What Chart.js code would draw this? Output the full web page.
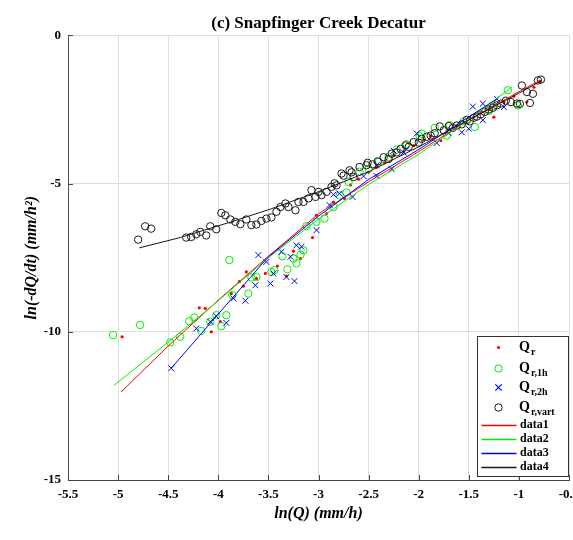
<!DOCTYPE html>
<html>
<head>
<meta charset="utf-8">
<script src="https://cdn.jsdelivr.net/npm/chart.js@4.4.0/dist/chart.umd.min.js"></script>
<style>
  html, body { margin: 0; padding: 0; background: #fff; overflow: hidden; }
  #wrap { width: 573px; height: 540px; overflow: hidden; }
  canvas { display: block; }
</style>
</head>
<body>
<div id="wrap"><canvas id="grafico" width="600" height="540"></canvas></div>
<script>
// Q_r (puntos rojos)
const qrX = [-4.96, -4.19, -4.13, -4.07, -3.98, -3.87, -3.79, -3.75, -3.72, -3.62, -3.53, -3.41, -3.32, -3.25, -3.18, -3.06, -3.02, -2.92, -2.85, -2.74, -2.68, -2.60, -2.50, -2.42, -2.34, -2.25, -2.15, -2.05, -1.95, -1.88, -1.78, -1.70, -1.62, -1.55, -1.45, -1.38, -1.30, -1.25, -1.15, -1.05, -0.92, -0.85, -0.79];
const qrY = [-10.17, -9.19, -9.21, -10.0, -9.66, -8.71, -8.31, -8.46, -7.98, -8.20, -8.03, -7.78, -8.12, -7.28, -7.53, -6.82, -6.07, -6.01, -5.62, -5.50, -5.05, -4.85, -4.62, -4.45, -4.30, -4.05, -3.92, -3.72, -3.52, -3.40, -3.55, -3.15, -3.05, -2.95, -2.75, -2.62, -2.50, -2.76, -2.25, -2.05, -2.25, -1.75, -1.55];

// Q_r,1h (circulos verdes)
const q1hX = [-5.05, -4.78, -4.48, -4.38, -4.29, -4.24, -4.17, -4.08, -4.02, -3.97, -3.92, -3.89, -3.86, -3.70, -3.67, -3.62, -3.47, -3.44, -3.36, -3.31, -3.25, -3.22, -3.18, -3.15, -3.12, -3.02, -2.94, -2.85, -2.79, -2.72, -2.70, -2.59, -2.50, -2.40, -2.30, -2.22, -2.12, -1.99, -1.97, -1.84, -1.72, -1.69, -1.55, -1.44, -1.30, -1.25, -1.11, -1.01];
const q1hY = [-10.11, -9.77, -10.36, -10.17, -9.64, -9.52, -9.97, -9.66, -9.44, -9.81, -9.44, -7.58, -8.76, -8.71, -8.17, -8.15, -7.98, -7.92, -7.45, -7.89, -7.53, -7.69, -7.40, -7.25, -6.43, -6.29, -6.18, -5.79, -5.40, -5.30, -4.95, -4.60, -4.50, -4.27, -4.10, -3.85, -3.67, -3.40, -3.32, -3.12, -3.38, -3.03, -2.90, -3.09, -2.55, -2.40, -1.85, -2.36];

// Q_r,2h (cruces azules)
const q2hX = [-4.47, -4.22, -4.08, -4.02, -3.92, -3.85, -3.73, -3.63, -3.60, -3.52, -3.48, -3.45, -3.37, -3.32, -3.28, -3.24, -3.22, -3.17, -3.02, -2.89, -2.85, -2.79, -2.66, -2.55, -2.42, -2.42, -2.27, -2.25, -2.15, -2.02, -1.82, -1.70, -1.57, -1.50, -1.46, -1.36, -1.36, -1.22, -1.15];
const q2hY = [-11.23, -9.89, -9.66, -9.47, -9.70, -8.87, -8.95, -8.43, -7.41, -7.64, -8.37, -8.03, -7.30, -8.15, -7.47, -8.29, -7.08, -7.13, -6.57, -5.72, -5.37, -5.34, -5.45, -4.75, -4.38, -4.74, -4.51, -3.89, -3.95, -3.31, -3.63, -3.30, -3.27, -3.15, -2.40, -2.86, -2.30, -2.14, -2.42];

// Q_r,vart (circulos negros)
const qvX = [-4.80, -4.73, -4.67, -4.32, -4.27, -4.22, -4.18, -4.12, -4.08, -4.02, -3.97, -3.93, -3.88, -3.83, -3.78, -3.72, -3.67, -3.62, -3.57, -3.52, -3.47, -3.42, -3.38, -3.33, -3.30, -3.23, -3.20, -3.15, -3.10, -3.07, -3.03, -3.00, -2.97, -2.92, -2.87, -2.84, -2.82, -2.77, -2.75, -2.69, -2.67, -2.65, -2.59, -2.52, -2.51, -2.46, -2.41, -2.35, -2.30, -2.27, -2.22, -2.18, -2.13, -2.10, -2.05, -2.00, -1.97, -1.92, -1.88, -1.84, -1.79, -1.75, -1.70, -1.66, -1.62, -1.57, -1.52, -1.49, -1.45, -1.42, -1.38, -1.34, -1.30, -1.26, -1.22, -1.18, -1.13, -1.08, -1.02, -0.99, -0.97, -0.92, -0.89, -0.86, -0.81, -0.78];
const qvY = [-6.89, -6.44, -6.52, -6.82, -6.80, -6.71, -6.63, -6.75, -6.44, -6.54, -5.99, -6.07, -6.21, -6.29, -6.37, -6.21, -6.40, -6.38, -6.26, -6.18, -6.14, -5.95, -5.79, -5.67, -5.79, -5.90, -5.62, -5.62, -5.50, -5.22, -5.45, -5.28, -5.39, -5.28, -5.11, -4.99, -5.06, -4.66, -4.73, -4.55, -4.62, -4.78, -4.44, -4.38, -4.30, -4.35, -4.25, -4.11, -4.17, -3.99, -3.95, -3.83, -3.71, -3.76, -3.60, -3.62, -3.49, -3.42, -3.38, -3.30, -3.07, -3.20, -3.06, -3.12, -3.04, -3.00, -2.85, -2.90, -2.78, -2.74, -2.66, -2.58, -2.50, -2.44, -2.36, -2.30, -2.20, -2.25, -2.30, -2.31, -1.69, -1.91, -2.28, -1.97, -1.52, -1.49];

// curvas ajustadas data1..data4
const fit1X = [-4.97, -4.5, -4, -3.5, -3, -2.5, -2, -1.5, -1, -0.79];
const fit1Y = [-12.03, -10.48, -8.93, -7.45, -6.02, -4.94, -3.92, -2.85, -1.90, -1.52];
const fit2X = [-5.04, -4.5, -4, -3.5, -3, -2.5, -2, -1.5, -1.07];
const fit2Y = [-11.8, -10.35, -8.95, -7.5, -6.2, -5.03, -4.01, -2.85, -1.74];
const fit3X = [-4.47, -4, -3.5, -3, -2.5, -2, -1.5, -1.22];
const fit3Y = [-11.23, -9.4, -7.47, -6.1, -4.86, -3.85, -2.75, -2.14];
const fit4X = [-4.79, -4.38, -3.88, -3.48, -3.02, -2.5, -2, -1.5, -1, -0.78];
const fit4Y = [-7.17, -6.82, -6.3, -5.86, -5.3, -4.6, -3.76, -2.85, -1.95, -1.54];

const xTicks = [-5.5, -5, -4.5, -4, -3.5, -3, -2.5, -2, -1.5, -1, -0.5];
const yTicks = [-15, -10, -5, 0];

const leyendaTextos = [["Q", "r"], ["Q", "r,1h"], ["Q", "r,2h"], ["Q", "r,vart"], ["data1"], ["data2"], ["data3"], ["data4"]];

const serif = "'Liberation Serif', 'Times New Roman', serif";
const ROJO = "#ff0000", VERDE = "#00ee00", AZUL = "#0000ff", NEGRO = "#1a1a1a";

function puntos(xs, ys) {
  return xs.map((x, i) => ({ x: x, y: ys[i] }));
}

// marcas cortas hacia dentro del eje, como en MATLAB
const marcas = {
  id: "marcas",
  afterDatasetsDraw(chart) {
    const { ctx, chartArea: a, scales } = chart;
    ctx.save();
    ctx.strokeStyle = "#444";
    ctx.lineWidth = 1;
    ctx.beginPath();
    xTicks.forEach(v => {
      const px = Math.round(scales.x.getPixelForValue(v)) + 0.5;
      ctx.moveTo(px, a.bottom);
      ctx.lineTo(px, a.bottom - 5);
    });
    yTicks.forEach(v => {
      const py = Math.round(scales.y.getPixelForValue(v)) + 0.5;
      ctx.moveTo(a.left, py);
      ctx.lineTo(a.left + 5, py);
    });
    ctx.stroke();
    ctx.restore();
  }
};

function marcador(ctx, tipo, color, x, y) {
  ctx.save();
  ctx.strokeStyle = color;
  ctx.fillStyle = color;
  ctx.lineWidth = 1;
  ctx.beginPath();
  if (tipo === "punto") {
    ctx.arc(x, y, 1.6, 0, Math.PI * 2);
    ctx.fill();
  } else if (tipo === "circulo") {
    ctx.arc(x, y, 3.7, 0, Math.PI * 2);
    ctx.stroke();
  } else if (tipo === "cruz") {
    ctx.lineWidth = 1.2;
    ctx.moveTo(x - 3.2, y - 3.2); ctx.lineTo(x + 3.2, y + 3.2);
    ctx.moveTo(x + 3.2, y - 3.2); ctx.lineTo(x - 3.2, y + 3.2);
    ctx.stroke();
  } else {
    ctx.lineWidth = 1.3;
    ctx.moveTo(x - 17, y); ctx.lineTo(x + 18, y);
    ctx.stroke();
  }
  ctx.restore();
}

const leyenda = {
  id: "leyenda",
  afterDraw(chart) {
    const ctx = chart.ctx;
    const caja = { x: 477, y: 336, w: 91, h: 140 };
    const filas = [347, 368, 387, 407, 425, 439, 453, 467];
    const tipos = ["punto", "circulo", "cruz", "circulo", "linea", "linea", "linea", "linea"];
    const colores = [ROJO, VERDE, AZUL, NEGRO, ROJO, VERDE, AZUL, NEGRO];
    ctx.save();
    ctx.fillStyle = "#fff";
    ctx.fillRect(caja.x, caja.y, caja.w, caja.h);
    ctx.strokeStyle = "#333";
    ctx.lineWidth = 1;
    ctx.strokeRect(caja.x + 0.5, caja.y + 0.5, caja.w, caja.h);
    leyendaTextos.forEach((t, i) => {
      const y = filas[i];
      marcador(ctx, tipos[i], colores[i], 498.5, y + 0.5);
      ctx.fillStyle = "#000";
      ctx.textBaseline = "middle";
      if (t.length === 2) {
        ctx.font = "bold 14px " + serif;
        ctx.fillText(t[0], 519, y);
        const w = ctx.measureText(t[0]).width;
        ctx.font = "bold 10px " + serif;
        ctx.fillText(t[1], 519 + w + 1, y + 5);
      } else {
        ctx.font = "bold 12px " + serif;
        ctx.fillText(t[0], 520, y);
      }
    });
    ctx.restore();
  }
};

new Chart(document.getElementById("grafico"), {
  type: "scatter",
  data: {
    datasets: [
      { label: "Q_r", data: puntos(qrX, qrY), pointStyle: "circle", pointRadius: 1.6, backgroundColor: ROJO, borderColor: ROJO, borderWidth: 0, order: 8 },
      { label: "Q_r,1h", data: puntos(q1hX, q1hY), pointStyle: "circle", pointRadius: 3.7, backgroundColor: "rgba(0,0,0,0)", borderColor: VERDE, borderWidth: 1, order: 7 },
      { label: "Q_r,2h", data: puntos(q2hX, q2hY), pointStyle: "crossRot", pointRadius: 4.2, borderColor: AZUL, borderWidth: 1, order: 6 },
      { label: "Q_r,vart", data: puntos(qvX, qvY), pointStyle: "circle", pointRadius: 3.7, backgroundColor: "rgba(0,0,0,0)", borderColor: NEGRO, borderWidth: 1, order: 5 },
      { label: "data1", data: puntos(fit1X, fit1Y), showLine: true, pointRadius: 0, borderColor: ROJO, borderWidth: 1, order: 4 },
      { label: "data2", data: puntos(fit2X, fit2Y), showLine: true, pointRadius: 0, borderColor: VERDE, borderWidth: 1, order: 3 },
      { label: "data3", data: puntos(fit3X, fit3Y), showLine: true, pointRadius: 0, borderColor: AZUL, borderWidth: 1, order: 2 },
      { label: "data4", data: puntos(fit4X, fit4Y), showLine: true, pointRadius: 0, borderColor: NEGRO, borderWidth: 1, order: 1 }
    ]
  },
  options: {
    responsive: false,
    animation: false,
    events: [],
    layout: { padding: { left: 0, right: 31, top: 0, bottom: 0 } },
    plugins: {
      legend: { display: false },
      tooltip: { enabled: false },
      title: {
        display: true,
        fullSize: false,
        text: "(c) Snapfinger Creek Decatur",
        color: "#000",
        font: { family: serif, size: 17, weight: "bold" },
        padding: { top: 13, bottom: 2 }
      }
    },
    scales: {
      x: {
        type: "linear",
        min: -5.5,
        max: -0.5,
        afterFit: s => { s.height = 60; },
        afterBuildTicks: s => { s.ticks = xTicks.map(v => ({ value: v })); },
        grid: { color: "#dedede", drawTicks: false },
        border: { color: "#444", width: 1 },
        ticks: { color: "#000", padding: 7, maxRotation: 0, autoSkip: false, font: { family: serif, size: 13, weight: "bold" }, callback: v => String(v) },
        title: { display: true, text: "ln(Q) (mm/h)", color: "#000", font: { family: serif, size: 16, weight: "bold", style: "italic" }, padding: { top: 0, bottom: 17 } }
      },
      y: {
        type: "linear",
        min: -15,
        max: 0,
        afterFit: s => { s.width = 68; },
        afterBuildTicks: s => { s.ticks = yTicks.map(v => ({ value: v })); },
        grid: { color: "#dedede", drawTicks: false },
        border: { color: "#555", width: 1 },
        ticks: { color: "#000", padding: 7, font: { family: serif, size: 13, weight: "bold" }, callback: v => String(v) },
        title: { display: true, text: "ln(-dQ/dt) (mm/h²)", color: "#000", font: { family: serif, size: 16, weight: "bold", style: "italic" }, padding: { top: 22, bottom: 0 } }
      }
    }
  },
  plugins: [marcas, leyenda]
});
</script>
</body>
</html>
